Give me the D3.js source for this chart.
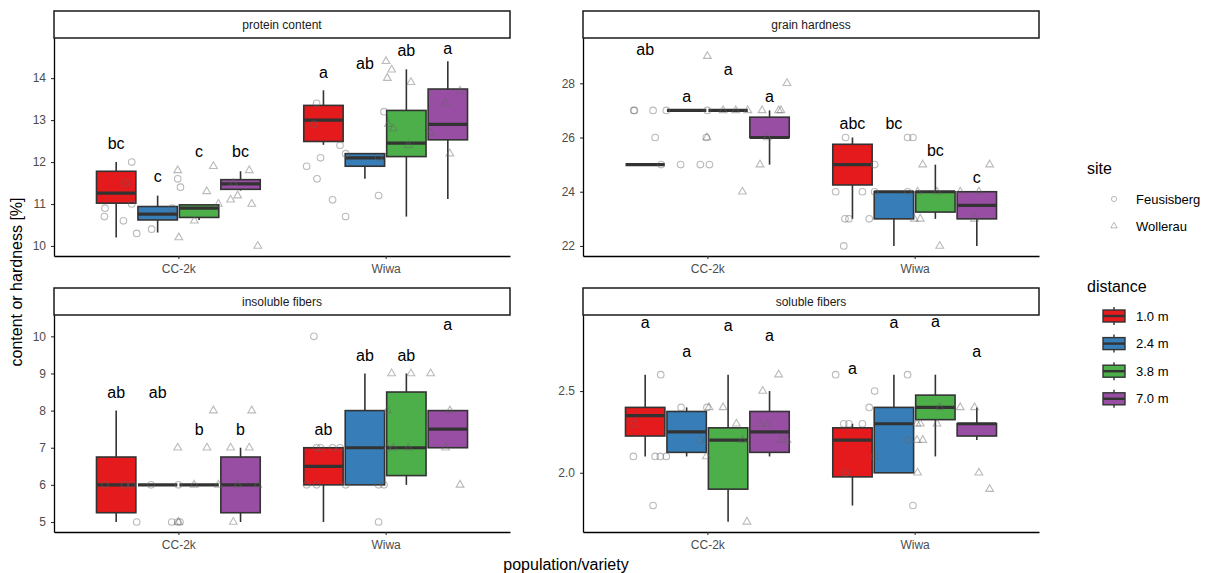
<!DOCTYPE html>
<html>
<head>
<meta charset="utf-8">
<script src="https://cdn.jsdelivr.net/npm/d3@7"></script>
<style>
  body { margin: 0; background: #fff; }
  text { font-family: "Liberation Sans", Arial, Helvetica, sans-serif; }
</style>
</head>
<body>
<svg id="chart" width="1215" height="573"></svg>
<script>
// ---- data ----
const panelTitles = ["protein content", "grain hardness", "insoluble fibers", "soluble fibers"];
const varieties = ["CC-2k", "Wiwa"];
const distances = ["1.0 m", "2.4 m", "3.8 m", "7.0 m"];
const sites = ["Feusisberg", "Wollerau"];
const distColors = ["#E41A1C", "#377EB8", "#4DAF4A", "#984EA3"];

const yTicks = [[10, 11, 12, 13, 14], [22, 24, 26, 28], [5, 6, 7, 8, 9, 10], [2.0, 2.5]];
const yDomains = [[9.761, 14.956], [21.63, 29.67], [4.731, 10.574], [1.638, 2.965]];

// box stats [lower whisker, q1, median, q3, upper whisker], CC-2k 1.0..7.0 m then Wiwa 1.0..7.0 m
const boxProtein = [
  [10.2, 11.02, 11.26, 11.78, 12.0], [10.32, 10.62, 10.76, 10.94, 11.2],
  [10.62, 10.68, 10.9, 10.98, 10.98], [11.32, 11.35, 11.48, 11.58, 11.78],
  [12.41, 12.49, 13.0, 13.35, 13.71], [11.6, 11.9, 12.1, 12.2, 12.2],
  [10.7, 12.13, 12.45, 13.23, 14.21], [11.12, 12.53, 12.9, 13.74, 14.4]
];
const boxHardness = [
  [25, 25, 25, 25, 25], [27, 27, 27, 27, 27], [27, 27, 27, 27, 27], [25, 26, 26, 26.75, 27],
  [23, 24.25, 25, 25.75, 26], [22, 23, 24, 24, 24], [23, 23.25, 24, 24, 25], [22, 23, 23.5, 24, 24]
];
const boxInsoluble = [
  [5, 5.25, 6, 6.75, 8], [6, 6, 6, 6, 6], [6, 6, 6, 6, 6], [5, 5.25, 6, 6.75, 7],
  [5, 6, 6.5, 7, 7], [6, 6, 7, 8, 9], [6, 6.25, 7, 8.5, 9], [7, 7, 7.5, 8, 8]
];
const boxSoluble = [
  [2.1, 2.225, 2.35, 2.4, 2.6], [2.1, 2.125, 2.25, 2.375, 2.4],
  [1.7, 1.9, 2.2, 2.275, 2.6], [2.1, 2.125, 2.25, 2.375, 2.5],
  [1.8, 1.975, 2.2, 2.275, 2.3], [2.0, 2.0, 2.3, 2.4, 2.6],
  [2.1, 2.325, 2.4, 2.475, 2.6], [2.2, 2.225, 2.3, 2.3, 2.4]
];

// compact letter display and the height at which it sits
const lettersProtein = ["bc", "c", "c", "bc", "a", "ab", "ab", "a"];
const letterYProtein = [12.45, 11.66, 12.25, 12.25, 14.14, 14.35, 14.65, 14.7];
const lettersHardness = ["ab", "a", "a", "a", "abc", "bc", "bc", "c"];
const letterYHardness = [29.25, 27.52, 28.53, 27.52, 26.53, 26.53, 25.54, 24.52];
const lettersInsoluble = ["ab", "ab", "b", "b", "ab", "ab", "ab", "a"];
const letterYInsoluble = [8.49, 8.49, 7.5, 7.5, 7.5, 9.48, 9.48, 10.33];
const lettersSoluble = ["a", "a", "a", "a", "a", "a", "a", "a"];
const letterYSoluble = [2.92, 2.74, 2.9, 2.84, 2.64, 2.92, 2.925, 2.74];

// raw points: [variety, site, jitter (category units), value]
const pointsProtein = [
  [0,0,-0.225,12.0],[0,0,-0.254,11.5],[0,0,-0.354,10.9],[0,0,-0.357,10.7],[0,0,-0.265,10.6],
  [0,0,-0.225,11.0],[0,0,-0.201,10.3],[0,0,-0.129,10.4],[0,0,-0.029,10.9],[0,0,-0.003,11.6],
  [0,0,0.010,11.4],
  [0,1,-0.003,11.8],[0,1,0.002,10.2],[0,1,0.077,10.6],[0,1,0.137,11.3],[0,1,0.169,11.9],
  [0,1,0.193,11.0],[0,1,0.252,11.1],[0,1,0.265,11.5],[0,1,0.286,11.2],[0,1,0.342,11.8],
  [0,1,0.354,11.0],[0,1,0.383,10.0],
  [1,0,-0.381,11.9],[1,0,-0.333,13.4],[1,0,-0.346,12.9],[1,0,-0.314,12.1],[1,0,-0.331,11.6],
  [1,0,-0.256,11.1],[1,0,-0.220,12.4],[1,0,-0.193,12.2],[1,0,-0.193,10.7],[1,0,-0.034,12.1],
  [1,0,-0.034,11.2],[1,0,-0.008,13.2],
  [1,1,0.002,14.4],[1,1,0.029,14.2],[1,1,0.008,14.0],[1,1,0.122,13.9],[1,1,0.013,12.9],
  [1,1,0.037,12.8],[1,1,0.109,12.4],[1,1,0.217,12.7],[1,1,0.289,13.4],[1,1,0.359,13.7],
  [1,1,0.310,12.2]
];
const pointsHardness = [
  [0,0,-0.355,27],[0,0,-0.352,27],[0,0,-0.262,27],[0,0,-0.198,27],[0,0,-0.252,26],
  [0,0,-0.223,25],[0,0,-0.129,25],[0,0,-0.034,25],[0,0,0.010,25],[0,0,0,27],[0,0,-0.005,26],
  [0,1,0,29],[0,1,-0.002,26],[0,1,0.076,27],[0,1,0.137,27],[0,1,0.195,27],[0,1,0.264,27],
  [0,1,0.344,27],[0,1,0.355,27],[0,1,0.384,28],[0,1,0.169,24],[0,1,0.254,25],[0,1,0.289,26],
  [1,0,-0.381,24],[1,0,-0.342,22],[1,0,-0.333,26],[1,0,-0.336,23],[1,0,-0.317,23],
  [1,0,-0.252,24],[1,0,-0.219,23],[1,0,-0.193,24],[1,0,-0.193,25],[1,0,-0.034,26],
  [1,0,-0.008,26],[1,0,-0.034,24],
  [1,1,-0.002,23],[1,1,0.014,24],[1,1,0.027,23],[1,1,0.039,25],[1,1,0.108,24],
  [1,1,0.121,22],[1,1,0.220,24],[1,1,0.289,23],[1,1,0.310,24],[1,1,0.362,25]
];
const pointsInsoluble = [
  [0,0,-0.354,6],[0,0,-0.260,6],[0,0,-0.225,6],[0,0,-0.201,5],[0,0,-0.132,6],
  [0,0,-0.032,5],[0,0,-0.003,5],[0,0,0.008,5],[0,0,0,6],
  [0,1,-0.003,7],[0,1,0,5],[0,1,0.076,6],[0,1,0.138,7],[0,1,0.169,8],[0,1,0.193,6],
  [0,1,0.252,7],[0,1,0.265,5],[0,1,0.286,6],[0,1,0.342,7],[0,1,0.354,8],[0,1,0.383,6],
  [1,0,-0.346,10],[1,0,-0.333,7],[1,0,-0.314,7],[1,0,-0.381,6],[1,0,-0.333,6],
  [1,0,-0.256,7],[1,0,-0.220,7],[1,0,-0.193,6],[1,0,-0.034,6],[1,0,-0.008,6],[1,0,-0.034,5],
  [1,1,0.008,8],[1,1,0.029,9],[1,1,0.122,9],[1,1,0.008,7],[1,1,0.037,7],[1,1,0.109,7],
  [1,1,0.217,9],[1,1,0.289,7],[1,1,0.310,8],[1,1,0.359,6]
];
const pointsSoluble = [
  [0,0,-0.352,2.3],[0,0,-0.357,2.1],[0,0,-0.262,1.8],[0,0,-0.252,2.1],[0,0,-0.227,2.1],
  [0,0,-0.198,2.1],[0,0,-0.225,2.6],[0,0,-0.127,2.4],[0,0,-0.034,2.2],[0,0,-0.005,2.2],
  [0,0,-0.002,2.4],
  [0,1,0.008,2.4],[0,1,-0.005,2.1],[0,1,0.076,2.4],[0,1,0.140,2.3],[0,1,0.169,2.2],
  [0,1,0.191,1.7],[0,1,0.254,2.3],[0,1,0.289,2.3],[0,1,0.267,2.5],[0,1,0.344,2.6],
  [0,1,0.355,2.2],[0,1,0.384,2.2],
  [1,0,-0.381,2.6],[1,0,-0.333,2.0],[1,0,-0.342,2.3],[1,0,-0.317,2.3],[1,0,-0.252,2.3],
  [1,0,-0.219,2.4],[1,0,-0.193,2.5],[1,0,-0.193,2.1],[1,0,-0.034,2.6],[1,0,-0.034,2.2],
  [1,0,-0.008,1.8],
  [1,1,0.011,2.3],[1,1,0.027,2.3],[1,1,0.014,2.0],[1,1,0.011,2.2],[1,1,0.039,2.2],
  [1,1,0.108,2.3],[1,1,0.121,2.4],[1,1,0.220,2.4],[1,1,0.289,2.4],[1,1,0.310,2.0],
  [1,1,0.362,1.9]
];

const boxData = [boxProtein, boxHardness, boxInsoluble, boxSoluble];
const letterData = [lettersProtein, lettersHardness, lettersInsoluble, lettersSoluble];
const letterYData = [letterYProtein, letterYHardness, letterYInsoluble, letterYSoluble];
const pointData = [pointsProtein, pointsHardness, pointsInsoluble, pointsSoluble];

// ---- layout ----
const svg = d3.select("#chart");
svg.append("rect").attr("width", 1215).attr("height", 573).attr("fill", "#fff");

const panelPos = [
  {x0: 54, x1: 510, s0: 11, y0: 38, y1: 256},
  {x0: 583, x1: 1039, s0: 11, y0: 38, y1: 256},
  {x0: 54, x1: 510, s0: 288, y0: 315, y1: 532},
  {x0: 583, x1: 1039, s0: 288, y0: 315, y1: 532}
];
const dodge = [-0.3, -0.1, 0.1, 0.3];   // box centres within a category
const boxW = 0.19;
const pointColor = "#666";
const pointAlpha = 0.45;
const triangle = d3.symbol().type(d3.symbolTriangle).size(26);

panelPos.forEach((p, i) => {
  const g = svg.append("g");
  const x = d3.scalePoint().domain(varieties).range([p.x0, p.x1]).padding(0.6);
  const step = x.step();
  const y = d3.scaleLinear().domain(yDomains[i]).range([p.y1, p.y0]);

  // strip
  g.append("rect")
    .attr("x", p.x0).attr("y", p.s0)
    .attr("width", p.x1 - p.x0).attr("height", p.y0 - p.s0)
    .attr("fill", "#fff").attr("stroke", "#1a1a1a").attr("stroke-width", 1.5);
  g.append("text")
    .attr("x", (p.x0 + p.x1) / 2).attr("y", (p.s0 + p.y0) / 2)
    .attr("dy", "0.35em").attr("text-anchor", "middle")
    .attr("font-size", 12).attr("fill", "#1a1a1a")
    .text(panelTitles[i]);

  // boxes
  const boxes = boxData[i].map((s, k) => ({
    v: Math.floor(k / 4), d: k % 4, lo: s[0], q1: s[1], med: s[2], q3: s[3], hi: s[4]
  }));
  const bx = b => x(varieties[b.v]) + dodge[b.d] * step;
  const bg = g.append("g").selectAll("g").data(boxes).enter().append("g");
  bg.append("line")
    .attr("x1", bx).attr("x2", bx)
    .attr("y1", b => y(b.hi)).attr("y2", b => y(b.lo))
    .attr("stroke", "#333").attr("stroke-width", 1.6);
  bg.append("rect")
    .attr("x", b => bx(b) - boxW * step / 2)
    .attr("width", boxW * step)
    .attr("y", b => y(b.q3))
    .attr("height", b => y(b.q1) - y(b.q3))
    .attr("fill", b => distColors[b.d])
    .attr("stroke", "#333").attr("stroke-width", 1.6);
  bg.append("line")
    .attr("x1", b => bx(b) - boxW * step / 2).attr("x2", b => bx(b) + boxW * step / 2)
    .attr("y1", b => y(b.med)).attr("y2", b => y(b.med))
    .attr("stroke", "#333").attr("stroke-width", 3.2);

  // jittered raw points
  const pts = g.append("g").selectAll("path").data(pointData[i]).enter();
  pts.filter(d => d[1] === 0).append("circle")
    .attr("cx", d => x(varieties[d[0]]) + d[2] * step)
    .attr("cy", d => y(d[3]))
    .attr("r", 3.3)
    .attr("fill", "none").attr("stroke", pointColor)
    .attr("stroke-opacity", pointAlpha).attr("stroke-width", 1.1);
  pts.filter(d => d[1] === 1).append("path")
    .attr("d", triangle)
    .attr("transform", d => `translate(${x(varieties[d[0]]) + d[2] * step},${y(d[3])})`)
    .attr("fill", "none").attr("stroke", pointColor)
    .attr("stroke-opacity", pointAlpha).attr("stroke-width", 1.1);

  // letters
  g.append("g").selectAll("text").data(boxes).enter().append("text")
    .attr("x", bx)
    .attr("y", (b, k) => y(letterYData[i][k]))
    .attr("dy", "0.35em").attr("text-anchor", "middle")
    .attr("font-size", 16).attr("fill", "#000")
    .text((b, k) => letterData[i][k]);

  // axes
  const yAxis = g.append("g")
    .attr("transform", `translate(${p.x0},0)`)
    .call(d3.axisLeft(y).tickValues(yTicks[i]).tickSize(3).tickSizeOuter(0).tickPadding(5)
      .tickFormat(i === 3 ? d3.format(".1f") : d3.format("d")));
  const xAxis = g.append("g")
    .attr("transform", `translate(0,${p.y1})`)
    .call(d3.axisBottom(x).tickSize(3).tickSizeOuter(0).tickPadding(5));
  [yAxis, xAxis].forEach(a => {
    a.select(".domain").attr("stroke", "#000").attr("stroke-width", 1.3);
    a.selectAll(".tick line").attr("stroke", "#333").attr("stroke-width", 1.1);
    a.selectAll(".tick text").attr("fill", "#4d4d4d").attr("font-size", 12)
      .attr("font-family", "Liberation Sans, Arial, sans-serif");
  });
});

// axis titles
svg.append("text")
  .attr("transform", "translate(22,282) rotate(-90)")
  .attr("text-anchor", "middle").attr("font-size", 16).attr("fill", "#000")
  .text("content or hardness [%]");
svg.append("text")
  .attr("x", 566).attr("y", 570)
  .attr("text-anchor", "middle").attr("font-size", 16).attr("fill", "#000")
  .text("population/variety");

// legends
const leg = svg.append("g");
leg.append("text").attr("x", 1087).attr("y", 174).attr("font-size", 16).text("site");
sites.forEach((s, k) => {
  const cy = 199 + k * 27;
  if (k === 0) {
    leg.append("circle").attr("cx", 1114).attr("cy", cy).attr("r", 2.6)
      .attr("fill", "none").attr("stroke", pointColor).attr("stroke-opacity", pointAlpha);
  } else {
    leg.append("path").attr("d", d3.symbol().type(d3.symbolTriangle).size(18))
      .attr("transform", `translate(1114,${cy})`)
      .attr("fill", "none").attr("stroke", pointColor).attr("stroke-opacity", pointAlpha);
  }
  leg.append("text").attr("x", 1136).attr("y", cy).attr("dy", "0.35em")
    .attr("font-size", 13).text(s);
});

leg.append("text").attr("x", 1087).attr("y", 292).attr("font-size", 16).text("distance");
distances.forEach((dname, k) => {
  const cy = 316 + k * 27.6;
  leg.append("line").attr("x1", 1114).attr("x2", 1114)
    .attr("y1", cy - 9).attr("y2", cy + 9)
    .attr("stroke", "#333").attr("stroke-width", 1.4);
  leg.append("rect").attr("x", 1103).attr("y", cy - 6).attr("width", 22).attr("height", 12)
    .attr("fill", distColors[k]).attr("stroke", "#333").attr("stroke-width", 1.4);
  leg.append("line").attr("x1", 1103).attr("x2", 1125).attr("y1", cy).attr("y2", cy)
    .attr("stroke", "#333").attr("stroke-width", 2.4);
  leg.append("text").attr("x", 1136).attr("y", cy).attr("dy", "0.35em")
    .attr("font-size", 13).text(dname);
});
</script>
</body>
</html>
